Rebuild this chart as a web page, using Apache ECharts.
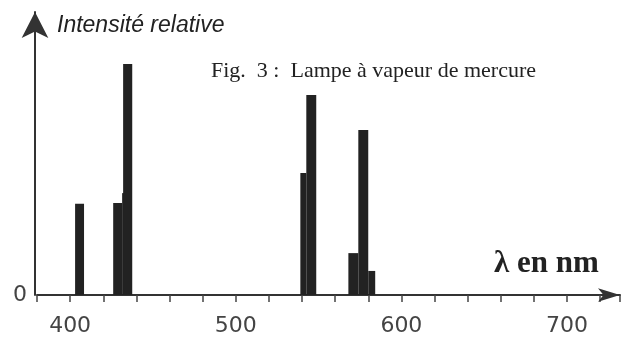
<!DOCTYPE html>
<html><head><meta charset="utf-8">
<script src="https://cdn.jsdelivr.net/npm/echarts@6/dist/echarts.min.js"></script>
<style>html,body{margin:0;padding:0;background:#fff}#c{width:630px;height:338px}</style>
</head><body><div id="c"></div>
<script>
// Spectral lines of the mercury lamp (wavelength band start/end in nm, relative intensity 0-100)
const wlStart   = [403.0, 426.0, 431.4, 432.0, 539.0, 542.6, 568.0, 574.0, 580.0];
const wlEnd     = [408.4, 431.4, 433.2, 437.5, 542.6, 548.6, 574.0, 580.0, 584.2];
const intensity = [32.2, 32.5, 36.0, 81.6, 43.1, 70.7, 14.8, 58.3, 8.5];
const xTickLabels = [400, 500, 600, 700];
const yTickLabels = [0];

const data = wlStart.map((s, i) => [s, wlEnd[i], intensity[i]]);
const chart = echarts.init(document.getElementById('c'));
chart.setOption({
  backgroundColor: '#fff',
  animation: false,
  title: [
    { text: 'Intensité relative', left: 52, top: 9,
      textStyle: { fontFamily: 'Liberation Sans', fontStyle: 'italic', fontWeight: 'normal', fontSize: 23, color: '#222' } },
    { text: 'Fig.  3 :  Lampe à vapeur de mercure', left: 206, top: 55,
      textStyle: { fontFamily: 'Liberation Serif', fontWeight: 'normal', fontSize: 22, color: '#222' } },
    { text: 'λ en nm', left: 489, top: 243,
      textStyle: { fontFamily: 'Liberation Serif', fontWeight: 'bold', fontSize: 31, color: '#222' } }
  ],
  grid: { left: 37, right: 10, top: 12, bottom: 43 },
  xAxis: {
    type: 'value', min: 380, max: 732, interval: 20,
    splitLine: { show: false },
    axisLine: { lineStyle: { color: '#333', width: 2 }, symbol: ['none', 'arrow'], symbolSize: [10, 22] },
    axisTick: { lineStyle: { color: '#444', width: 1.5 }, length: 7 },
    axisLabel: {
      margin: 20, fontFamily: 'DejaVu Sans', fontSize: 22, color: '#444',
      formatter: v => xTickLabels.includes(v) ? String(v) : ''
    }
  },
  yAxis: {
    type: 'value', min: 0, max: 100, interval: 100, offset: 2,
    splitLine: { show: false },
    axisLine: { show: true, lineStyle: { color: '#333', width: 2 }, symbol: ['none', 'arrow'], symbolSize: [20, 26] },
    axisTick: { show: false },
    axisLabel: {
      margin: 8, fontFamily: 'DejaVu Sans', fontSize: 22, color: '#444',
      formatter: v => yTickLabels.includes(v) ? String(v) : ''
    }
  },
  series: [{
    type: 'custom',
    data: data,
    encode: { x: [0, 1], y: 2 },
    renderItem: function (params, api) {
      const p0 = api.coord([api.value(0), api.value(2)]);
      const p1 = api.coord([api.value(1), 0]);
      return {
        type: 'rect',
        shape: { x: p0[0], y: p0[1], width: p1[0] - p0[0], height: p1[1] - p0[1] },
        style: { fill: '#222' }
      };
    }
  }]
});
</script></body></html>
